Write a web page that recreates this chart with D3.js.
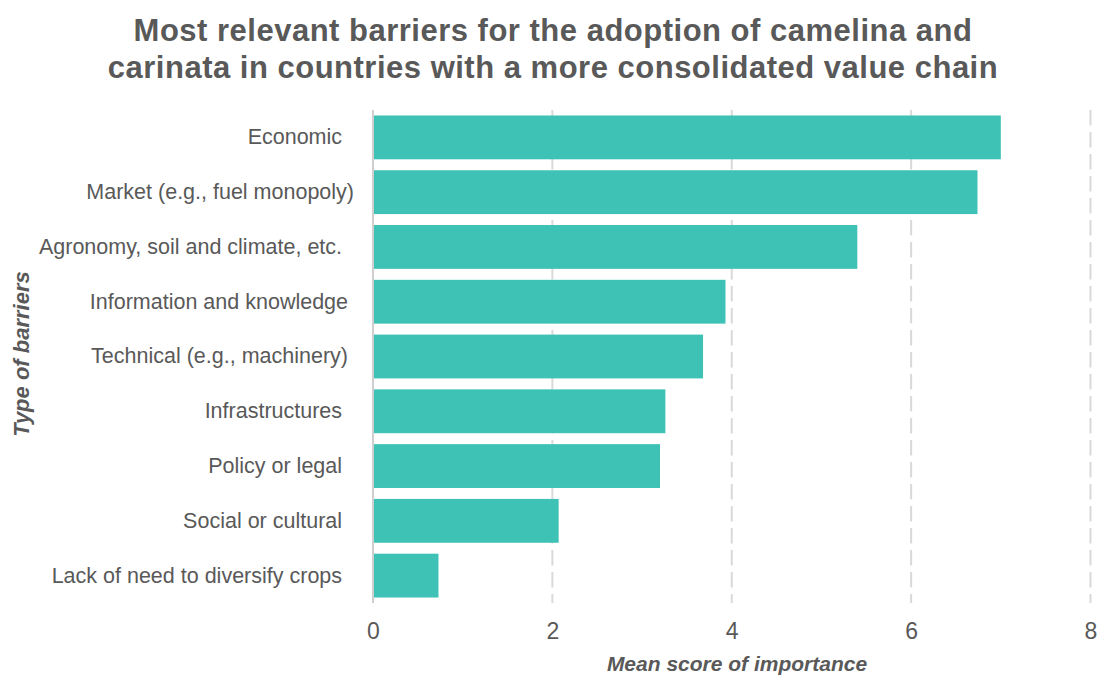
<!DOCTYPE html>
<html>
<head>
<meta charset="utf-8">
<script src="https://cdn.jsdelivr.net/npm/d3@7"></script>
<style>
  html, body { margin: 0; padding: 0; background: #ffffff; }
  svg { display: block; font-family: "Liberation Sans", Arial, Helvetica, sans-serif; }
  .cat { white-space: pre; }
</style>
</head>
<body>
<svg id="chart" width="1097" height="675"></svg>
<script>
// Barrier categories (top to bottom); trailing spaces kept from the survey labels
const categories = [
  "Economic  ",
  "Market (e.g., fuel monopoly)",
  "Agronomy, soil and climate, etc.  ",
  "Information and knowledge ",
  "Technical (e.g., machinery) ",
  "Infrastructures  ",
  "Policy or legal  ",
  "Social or cultural  ",
  "Lack of need to diversify crops  "
];
// Mean score of importance for each barrier
const scores = [7.00, 6.74, 5.40, 3.93, 3.68, 3.26, 3.20, 2.07, 0.73];
const xTicks = [0, 2, 4, 6, 8];
const titleLines = [
  "Most relevant barriers for the adoption of camelina and",
  "carinata in countries with a more consolidated value chain"
];

const textColor = "#595959";
const barColor = "#3dc2b5";
const gridColor = "#d9d9d9";

const svg = d3.select("#chart");
const plot = { left: 373, right: 1090.5, top: 110, bottom: 603 };

const x = d3.scaleLinear().domain([0, 8]).range([plot.left, plot.right]);
const y = d3.scaleBand().domain(categories).range([plot.top, plot.bottom])
  .paddingInner(0.2).paddingOuter(0.1);

// Vertical gridlines: solid at zero, dashed elsewhere
svg.append("g").selectAll("line").data(xTicks).join("line")
  .attr("x1", d => x(d)).attr("x2", d => x(d))
  .attr("y1", plot.top).attr("y2", plot.bottom)
  .attr("stroke", d => d === 0 ? "#cfcfcf" : gridColor)
  .attr("stroke-width", 2)
  .attr("stroke-dasharray", d => d === 0 ? null : "15.5,6.5");

// Bars
const data = categories.map((c, i) => ({ cat: c, value: scores[i] }));
svg.append("g").selectAll("rect").data(data).join("rect")
  .attr("x", x(0) + 1)
  .attr("y", d => y(d.cat))
  .attr("width", d => x(d.value) - x(0) - 1)
  .attr("height", y.bandwidth())
  .attr("fill", barColor);

// Category axis labels
const yAxis = d3.axisLeft(y).tickSize(0).tickPadding(19);
const gy = svg.append("g").attr("transform", `translate(${plot.left},0)`).call(yAxis);
gy.select(".domain").remove();
gy.selectAll("text")
  .attr("class", "cat")
  .attr("fill", textColor)
  .style("font-size", "21.5px")
  .style("font-family", "'Liberation Sans', Arial, sans-serif");

// Value axis labels
const xAxis = d3.axisBottom(x).tickValues(xTicks).tickSize(0).tickPadding(20)
  .tickFormat(d3.format("d"));
const gx = svg.append("g").attr("transform", `translate(0,${plot.bottom})`).call(xAxis);
gx.select(".domain").remove();
gx.selectAll("text")
  .attr("fill", textColor)
  .style("font-size", "23px")
  .style("font-family", "'Liberation Sans', Arial, sans-serif");

// Title
svg.append("text")
  .attr("x", 553).attr("y", 41)
  .attr("text-anchor", "middle")
  .attr("fill", textColor)
  .style("font-size", "31px").style("font-weight", "bold")
  .style("letter-spacing", "0.5px")
  .selectAll("tspan").data(titleLines).join("tspan")
  .attr("x", 553).attr("dy", (d, i) => i === 0 ? 0 : 36.5)
  .text(d => d);

// Axis titles
svg.append("text")
  .attr("x", 737).attr("y", 671)
  .attr("text-anchor", "middle")
  .attr("fill", textColor)
  .style("font-size", "21px").style("font-weight", "bold").style("font-style", "italic")
  .text("Mean score of importance");

svg.append("text")
  .attr("transform", "translate(29,354) rotate(-90)")
  .attr("text-anchor", "middle")
  .attr("fill", textColor)
  .style("font-size", "22px").style("font-weight", "bold").style("font-style", "italic")
  .text("Type of barriers");
</script>
</body>
</html>
